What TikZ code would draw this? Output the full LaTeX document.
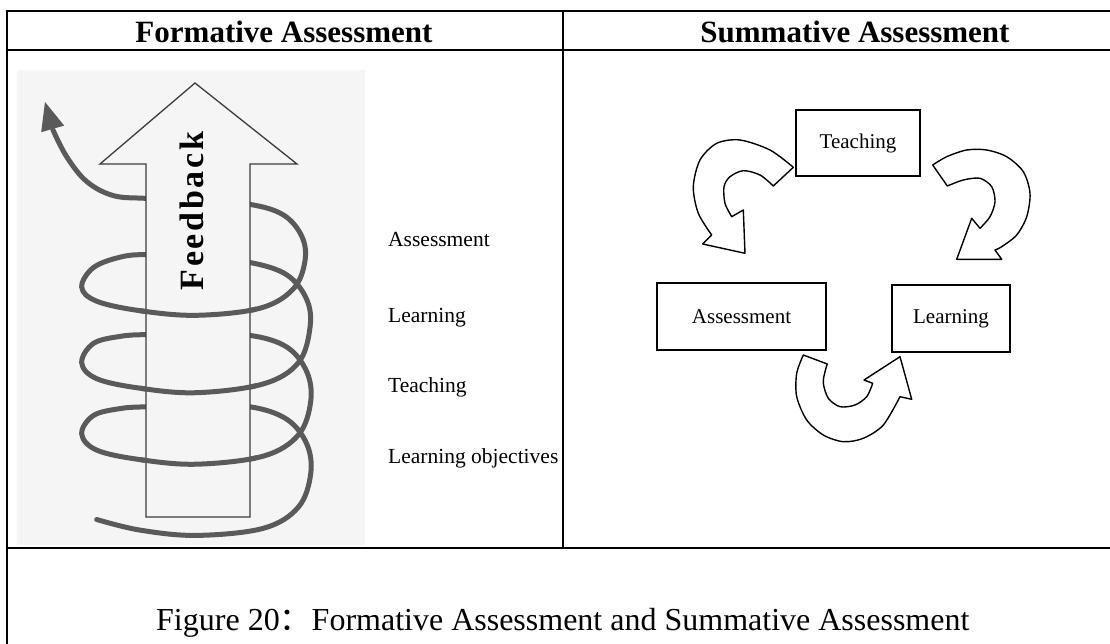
\documentclass[tikz,border=0pt]{standalone}
\usepackage{fontspec}
\setmainfont{Liberation Serif}
\newfontfamily\cjk{Noto Sans CJK SC}
\definecolor{spiralgray}{HTML}{5A5A5A}
\definecolor{picbg}{HTML}{F5F5F5}
\definecolor{shaftline}{HTML}{3C3C3C}
\tikzset{
    rule/.style={line width=2pt},
    headtext/.style={font=\fontsize{31}{36}\selectfont\bfseries, anchor=base, inner sep=0pt},
    sidelabel/.style={font=\fontsize{21.5}{26}\selectfont, anchor=base west, inner sep=0pt},
    cyclebox/.style={draw, line width=1.6pt, font=\fontsize{21}{25}\selectfont},
    blockarrow/.style={draw, fill=white, line width=1.4pt, line join=round},
    spiral/.style={draw=spiralgray, line width=5pt, line cap=round}
}
\begin{document}
\begin{tikzpicture}[x=1pt,y=-1pt]
        \useasboundingbox[fill=white] (0,0) rectangle (1110,644);
        % Table rules
        \draw[rule] (6.5,10) -- (6.5,644);
        \draw[rule] (5.5,11) -- (1110,11);
        \draw[rule] (5.5,50) -- (1110,50);
        \draw[rule] (563,11) -- (563,548);
        \draw[rule] (5.5,548) -- (1110,548);
        % Headers
        \node[headtext] (formhead) at (284,43) {Formative Assessment};
        \node[headtext] (sumhead) at (855,43) {Summative Assessment};
        % Left picture: spiral round the feedback arrow
        \fill[picbg] (17,70) rectangle (365,545);
        \def\spiralpts{(53,130) (66.7,156.8) (86.7,181.5) (113.3,195.6) (146.7,198.4) (200,200.8)
            (250,204.4) (283.3,214.9) (301.7,236.1) (305,260.7) (293.3,288.9) (260,308.2)
            (196.7,315.3) (140,310.7) (96.7,301.2) (81.7,287.1) (93.3,267.7) (120,257.2)
            (146.7,254.7) (200,257.9) (250,262.5) (286.7,274.8) (306.7,299.4) (310,327.6)
            (298.3,362.8) (263.3,383.9) (196.7,392.7) (140,388.2) (96.7,378.7) (81.7,362.8)
            (93.3,343.5) (120,336.4) (146.7,334.6) (200,334.6) (250,335.4) (286.7,347)
            (306.7,371.6) (310.7,401.5) (298.3,435) (263.3,456.1) (196.7,464.2) (140,459.6)
            (96.7,450.1) (81.7,433.9) (93.3,415.6) (120,408.6) (146.7,406.8) (200,406.1)
            (250,406.8) (286.7,419.2) (306.7,443.8) (310.7,473.7) (298.3,507.2) (263.3,528.3)
            (196.7,535.4) (140,530.1) (96.7,519.5)}
        \draw[spiral] plot[smooth, tension=0.6] coordinates {\spiralpts};
        \fill[spiralgray] (45,102) -- (64.2,125.6) -- (41.2,132.2) -- cycle;
        \draw[draw=shaftline, fill=picbg, line width=1.3pt, line join=miter]
            (146,517) -- (146,164) -- (100,164) -- (195,83) -- (297,164) -- (250,164) -- (250,517) -- cycle;
        % Front of the loops passes over the shaft
        \begin{scope}
            \clip (140,304) rectangle (256,322) (140,382) rectangle (256,400) (140,453) rectangle (256,471);
            \draw[spiral] plot[smooth, tension=0.6] coordinates {\spiralpts};
        \end{scope}
        \node[rotate=90, anchor=base, inner sep=0pt,
            font=\fontsize{34}{40}\selectfont\bfseries\addfontfeatures{LetterSpace=8}] (feedback) at (203,211) {Feedback};
        % Side labels
        \foreach \txt/\y [count=\i] in {Assessment/247, Learning/322, Teaching/392, Learning objectives/463} {
            \node[sidelabel] (level\i) at (388,\y) {\txt};
        }
        % Right picture: the cycle
        \node[cyclebox, minimum width=124pt, minimum height=66pt] (teach) at (858,143) {Teaching};
        \node[cyclebox, minimum width=169pt, minimum height=67pt] (assess) at (741.5,316.5) {Assessment};
        \node[cyclebox, minimum width=118pt, minimum height=67pt] (learn) at (951,318.5) {Learning};
        % Teaching to Assessment
        \draw[blockarrow] plot[smooth] coordinates {(793.3,167.3) (770,150) (740,140) (716.7,143.3) (700,160)
            (693.3,186.7) (698.3,213.3) (711.7,235)}
            -- (702.7,244) -- (745,253.3) -- (743.3,210) -- (731.7,216.7)
            -- plot[smooth] coordinates {(731.7,216.7) (725,203.3) (724,186.7) (730,176.7) (743.3,170.7) (760,175) (773.3,186)}
            -- cycle;
        % Teaching to Learning
        \draw[blockarrow] plot[smooth] coordinates {(932.7,165) (946.7,156.7) (966.7,150) (986.7,150) (1006.7,156.7)
            (1023.3,171.7) (1030,193.3) (1026.7,216.7) (1016.7,235) (1001.7,246.7) (995,250)}
            -- (1001.7,259.3) -- (956.7,259.3) -- (971.7,218.3) -- (980,228.3)
            -- plot[smooth] coordinates {(980,228.3) (990,216.7) (995,201.7) (991.7,186.7) (980,178.3) (963.3,180) (947.3,186)}
            -- cycle;
        % Assessment to Learning
        \draw[blockarrow] plot[smooth] coordinates {(803.3,355) (796.7,373.3) (796.7,396.7) (806.7,420) (823.3,435)
            (843.3,441.7) (863.3,438.3) (883.3,425) (900,396.7)}
            -- (911.7,399.3) -- (900,356.7) -- (864,380) -- (872.7,383.3)
            -- plot[smooth] coordinates {(872.7,383.3) (866.7,396.7) (855,405) (840,406.7) (828.3,398.3) (823.3,383.3) (825,371.7) (827.3,364)}
            -- cycle;
        % Caption
        \node[anchor=base west, inner sep=0pt, font=\fontsize{32}{38}\selectfont] (caption) at (156,630)
            {Figure 20{\cjk ：}Formative Assessment and Summative Assessment};
\end{tikzpicture}
\end{document}
